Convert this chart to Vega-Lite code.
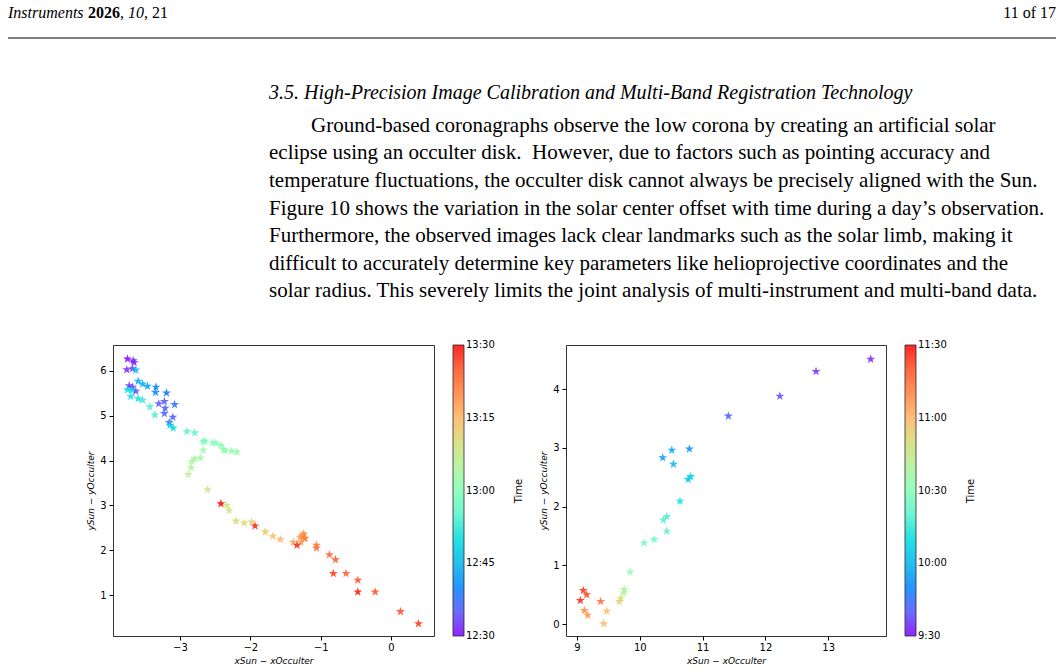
{
  "$schema": "https://vega.github.io/schema/vega-lite/v6.json",
  "background": "white",
  "padding": {"left": 7, "top": 0, "right": 0, "bottom": 0},
  "config": {
    "view": {"stroke": null},
    "axis": {"grid": false, "domain": false, "tickColor": "#000", "tickSize": 4, "labelFont": "DejaVu Sans", "labelFontSize": 10, "labelColor": "#000", "titleFont": "DejaVu Sans", "titleFontSize": 9, "titleFontStyle": "italic", "titleFontWeight": "normal", "titleColor": "#000", "labelPadding": 3, "titlePadding": 4},
    "legend": {"orient": "none", "legendY": 0, "direction": "vertical", "gradientLength": 291, "gradientThickness": 11, "gradientStrokeColor": "#000", "gradientStrokeWidth": 0.8, "labelFont": "DejaVu Sans", "labelFontSize": 10, "labelColor": "#000", "labelOffset": 7, "labelOverlap": false, "padding": 0}
  },
  "spacing": 43,
  "vconcat": [
    {
      "width": 1048,
      "height": 38,
      "data": {"values": [
        {"part": "journal", "text": "Instruments"},
        {"part": "year", "text": "2026"},
        {"part": "sep", "text": ","},
        {"part": "volume", "text": "10"},
        {"part": "article", "text": ", 21"},
        {"part": "page", "text": "11 of 17"}
      ]},
      "layer": [
        {"transform": [{"filter": "datum.part == 'journal'"}], "mark": {"type": "text", "x": 0, "dy": -6, "align": "left", "baseline": "middle", "font": "Liberation Serif", "fontSize": 16, "fontStyle": "italic", "color": "#000"}, "encoding": {"text": {"field": "text"}}},
        {"transform": [{"filter": "datum.part == 'year'"}], "mark": {"type": "text", "x": 0, "dx": 80, "dy": -6, "align": "left", "baseline": "middle", "font": "Liberation Serif", "fontSize": 16, "fontWeight": "bold", "color": "#000"}, "encoding": {"text": {"field": "text"}}},
        {"transform": [{"filter": "datum.part == 'sep'"}], "mark": {"type": "text", "x": 0, "dx": 112, "dy": -6, "align": "left", "baseline": "middle", "font": "Liberation Serif", "fontSize": 16, "color": "#000"}, "encoding": {"text": {"field": "text"}}},
        {"transform": [{"filter": "datum.part == 'volume'"}], "mark": {"type": "text", "x": 0, "dx": 120, "dy": -6, "align": "left", "baseline": "middle", "font": "Liberation Serif", "fontSize": 16, "fontStyle": "italic", "color": "#000"}, "encoding": {"text": {"field": "text"}}},
        {"transform": [{"filter": "datum.part == 'article'"}], "mark": {"type": "text", "x": 0, "dx": 136, "dy": -6, "align": "left", "baseline": "middle", "font": "Liberation Serif", "fontSize": 16, "color": "#000"}, "encoding": {"text": {"field": "text"}}},
        {"transform": [{"filter": "datum.part == 'page'"}], "mark": {"type": "text", "x": "width", "dy": -6, "align": "right", "baseline": "middle", "font": "Liberation Serif", "fontSize": 16, "color": "#000"}, "encoding": {"text": {"field": "text"}}},
        {"transform": [{"filter": "datum.part == 'page'"}], "mark": {"type": "rule", "x": 0, "x2": "width", "strokeWidth": 1.2, "color": "#000"}, "encoding": {"y": {"datum": 0, "type": "quantitative", "scale": {"domain": [0, 1], "zero": false, "nice": false}, "axis": null}}}
      ]
    },
    {
      "title": {
        "text": "3.5. High-Precision Image Calibration and Multi-Band Registration Technology",
        "subtitle": [
          "\u200b\u00a0\u00a0\u00a0\u00a0\u00a0\u00a0\u00a0\u00a0Ground-based coronagraphs observe the low corona by creating an artificial solar",
          "eclipse using an occulter disk.\u00a0 However, due to factors such as pointing accuracy and",
          "temperature fluctuations, the occulter disk cannot always be precisely aligned with the Sun.",
          "Figure 10 shows the variation in the solar center offset with time during a day’s observation.",
          "Furthermore, the observed images lack clear landmarks such as the solar limb, making it",
          "difficult to accurately determine key parameters like helioprojective coordinates and the",
          "solar radius. This severely limits the joint analysis of multi-instrument and multi-band data."
        ],
        "anchor": "start",
        "dx": 261,
        "font": "Liberation Serif",
        "fontSize": 20,
        "fontStyle": "italic",
        "fontWeight": "normal",
        "color": "#000",
        "subtitleFont": "Liberation Serif",
        "subtitleFontSize": 21,
        "subtitleColor": "#000",
        "subtitleLineHeight": 27.6,
        "subtitlePadding": 12,
        "offset": 43
      },
      "spacing": 15,
      "resolve": {"scale": {"color": "independent", "x": "independent", "y": "independent"}, "legend": {"color": "independent"}},
      "hconcat": [
        {
          "width": 63,
          "height": 291,
          "data": {"values": []},
          "mark": "point",
          "encoding": {}
        },
        {
          "width": 321,
          "height": 291,
          "view": {"stroke": "#333", "strokeWidth": 1},
          "data": {"values": [
            {"x": -3.744, "y": 6.27, "t": 750},
            {"x": -3.664, "y": 6.23, "t": 750.5},
            {"x": -3.65, "y": 6.19, "t": 751},
            {"x": -3.754, "y": 6.03, "t": 751},
            {"x": -3.673, "y": 6.05, "t": 751.5},
            {"x": -3.72, "y": 5.67, "t": 752},
            {"x": -3.673, "y": 5.64, "t": 752.5},
            {"x": -3.626, "y": 5.55, "t": 754},
            {"x": -3.30, "y": 5.27, "t": 755},
            {"x": -3.22, "y": 5.32, "t": 755},
            {"x": -3.21, "y": 5.17, "t": 756},
            {"x": -3.22, "y": 5.05, "t": 756},
            {"x": -3.10, "y": 4.97, "t": 756.5},
            {"x": -3.15, "y": 4.85, "t": 757},
            {"x": -3.075, "y": 5.25, "t": 758},
            {"x": -3.19, "y": 5.51, "t": 759},
            {"x": -3.34, "y": 5.64, "t": 760},
            {"x": -3.346, "y": 5.52, "t": 760},
            {"x": -3.46, "y": 5.66, "t": 762},
            {"x": -3.593, "y": 5.77, "t": 764},
            {"x": -3.53, "y": 5.71, "t": 764},
            {"x": -3.626, "y": 6.02, "t": 766},
            {"x": -3.14, "y": 4.79, "t": 769},
            {"x": -3.095, "y": 4.73, "t": 770},
            {"x": -3.744, "y": 5.58, "t": 770},
            {"x": -3.687, "y": 5.57, "t": 770.5},
            {"x": -3.697, "y": 5.43, "t": 771},
            {"x": -3.593, "y": 5.38, "t": 771},
            {"x": -3.53, "y": 5.35, "t": 772},
            {"x": -3.356, "y": 5.02, "t": 773},
            {"x": -3.427, "y": 5.20, "t": 774},
            {"x": -2.90, "y": 4.65, "t": 775},
            {"x": -2.79, "y": 4.62, "t": 776},
            {"x": -2.67, "y": 4.42, "t": 779},
            {"x": -2.645, "y": 4.44, "t": 779},
            {"x": -2.535, "y": 4.40, "t": 780},
            {"x": -2.49, "y": 4.39, "t": 780},
            {"x": -2.417, "y": 4.34, "t": 780.5},
            {"x": -2.38, "y": 4.25, "t": 781},
            {"x": -2.36, "y": 4.22, "t": 781},
            {"x": -2.265, "y": 4.21, "t": 781.5},
            {"x": -2.19, "y": 4.19, "t": 782},
            {"x": -2.67, "y": 4.23, "t": 782.5},
            {"x": -2.71, "y": 4.06, "t": 783},
            {"x": -2.79, "y": 4.04, "t": 783.5},
            {"x": -2.83, "y": 3.98, "t": 784},
            {"x": -2.84, "y": 3.84, "t": 786},
            {"x": -2.88, "y": 3.69, "t": 787},
            {"x": -2.606, "y": 3.35, "t": 788},
            {"x": -2.336, "y": 3.00, "t": 789},
            {"x": -2.30, "y": 2.89, "t": 789},
            {"x": -2.20, "y": 2.65, "t": 790},
            {"x": -2.085, "y": 2.61, "t": 790.5},
            {"x": -1.98, "y": 2.63, "t": 791},
            {"x": -1.787, "y": 2.41, "t": 793},
            {"x": -1.68, "y": 2.31, "t": 794},
            {"x": -1.573, "y": 2.24, "t": 795},
            {"x": -1.388, "y": 2.18, "t": 797},
            {"x": -1.293, "y": 2.29, "t": 798},
            {"x": -1.28, "y": 2.18, "t": 798.5},
            {"x": -1.255, "y": 2.33, "t": 799},
            {"x": -1.24, "y": 2.37, "t": 799},
            {"x": -1.23, "y": 2.26, "t": 799.5},
            {"x": -1.22, "y": 2.27, "t": 800},
            {"x": -1.06, "y": 2.11, "t": 801},
            {"x": -1.06, "y": 2.05, "t": 802},
            {"x": -0.876, "y": 1.90, "t": 803},
            {"x": -0.79, "y": 1.79, "t": 804},
            {"x": -0.64, "y": 1.48, "t": 804},
            {"x": -0.472, "y": 1.33, "t": 805},
            {"x": -0.226, "y": 1.07, "t": 805.5},
            {"x": 0.134, "y": 0.63, "t": 806},
            {"x": 0.39, "y": 0.36, "t": 808},
            {"x": -0.82, "y": 1.48, "t": 808},
            {"x": -1.933, "y": 2.54, "t": 809},
            {"x": -1.336, "y": 2.11, "t": 809},
            {"x": -0.472, "y": 1.07, "t": 809.5},
            {"x": -2.417, "y": 3.04, "t": 810}
          ]},
          "layer": [
            {
              "mark": {"type": "point", "shape": "M0,-1L0.225,-0.309L0.951,-0.309L0.363,0.118L0.588,0.809L0,0.382L-0.588,0.809L-0.363,0.118L-0.951,-0.309L-0.225,-0.309Z", "filled": true, "size": 90, "opacity": 0.85},
              "encoding": {
                "x": {"field": "x", "type": "quantitative", "scale": {"domain": [-3.95, 0.61], "nice": false, "zero": false}, "axis": {"title": "xSun − xOcculter", "values": [-3, -2, -1, 0], "labelPadding": 2}},
                "y": {"field": "y", "type": "quantitative", "scale": {"domain": [0.085, 6.58], "nice": false, "zero": false}, "axis": {"title": "ySun − yOcculter", "values": [1, 2, 3, 4, 5, 6]}},
                "color": {"field": "t", "type": "quantitative",
                  "scale": {"domain": [750, 757.5, 765, 772.5, 780, 787.5, 795, 802.5, 810], "range": ["#8000ff", "#4062fa", "#00b4eb", "#40ecd4", "#80ffb4", "#c0eb8e", "#ffb462", "#ff6232", "#ff0000"]},
                  "legend": {"title": null, "legendX": 340, "values": [750.05, 765, 780, 795, 809.95], "labelExpr": "floor(round(datum.value)/60) + ':' + (round(datum.value)%60 < 10 ? '0' : '') + (round(datum.value)%60)"}}
              }
            },
            {
              "transform": [{"filter": "false"}],
              "mark": {"type": "point", "opacity": 0},
              "encoding": {
                "y": {"datum": 0, "type": "quantitative", "scale": {"domain": [0, 1]}, "axis": {"orient": "right", "title": "Time", "labels": false, "ticks": false, "domain": false, "titleAngle": 270, "offset": 89, "titlePadding": 0, "titleFontStyle": "normal", "titleFontSize": 10}}
              }
            }
          ],
          "resolve": {"scale": {"y": "independent"}, "axis": {"y": "independent"}}
        },
        {
          "width": 320,
          "height": 291,
          "view": {"stroke": "#333", "strokeWidth": 1},
          "data": {"values": [
            {"x": 13.676, "y": 4.51, "t": 571},
            {"x": 12.806, "y": 4.30, "t": 573},
            {"x": 12.23, "y": 3.88, "t": 578},
            {"x": 11.41, "y": 3.54, "t": 582},
            {"x": 10.79, "y": 2.98, "t": 592},
            {"x": 10.365, "y": 2.83, "t": 595},
            {"x": 10.51, "y": 2.96, "t": 598},
            {"x": 10.535, "y": 2.72, "t": 600},
            {"x": 10.77, "y": 2.46, "t": 606},
            {"x": 10.81, "y": 2.51, "t": 607},
            {"x": 10.64, "y": 2.09, "t": 612},
            {"x": 10.43, "y": 1.83, "t": 616},
            {"x": 10.375, "y": 1.77, "t": 618},
            {"x": 10.43, "y": 1.58, "t": 620},
            {"x": 10.23, "y": 1.44, "t": 624},
            {"x": 10.07, "y": 1.38, "t": 626},
            {"x": 9.844, "y": 0.885, "t": 632},
            {"x": 9.753, "y": 0.59, "t": 638},
            {"x": 9.74, "y": 0.53, "t": 642},
            {"x": 9.70, "y": 0.44, "t": 648},
            {"x": 9.674, "y": 0.385, "t": 655},
            {"x": 9.473, "y": 0.22, "t": 658},
            {"x": 9.425, "y": 0.005, "t": 660},
            {"x": 9.17, "y": 0.15, "t": 667},
            {"x": 9.117, "y": 0.23, "t": 669},
            {"x": 9.377, "y": 0.385, "t": 674},
            {"x": 9.154, "y": 0.50, "t": 684},
            {"x": 9.10, "y": 0.57, "t": 686},
            {"x": 9.053, "y": 0.40, "t": 688}
          ]},
          "layer": [
            {
              "mark": {"type": "point", "shape": "M0,-1L0.225,-0.309L0.951,-0.309L0.363,0.118L0.588,0.809L0,0.382L-0.588,0.809L-0.363,0.118L-0.951,-0.309L-0.225,-0.309Z", "filled": true, "size": 90, "opacity": 0.85},
              "encoding": {
                "x": {"field": "x", "type": "quantitative", "scale": {"domain": [8.825, 13.92], "nice": false, "zero": false}, "axis": {"title": "xSun − xOcculter", "values": [9, 10, 11, 12, 13], "labelPadding": 2}},
                "y": {"field": "y", "type": "quantitative", "scale": {"domain": [-0.204, 4.75], "nice": false, "zero": false}, "axis": {"title": "ySun − yOcculter", "values": [0, 1, 2, 3, 4]}},
                "color": {"field": "t", "type": "quantitative",
                  "scale": {"domain": [570, 585, 600, 615, 630, 645, 660, 675, 690], "range": ["#8000ff", "#4062fa", "#00b4eb", "#40ecd4", "#80ffb4", "#c0eb8e", "#ffb462", "#ff6232", "#ff0000"]},
                  "legend": {"title": null, "legendX": 339, "values": [570.05, 600, 630, 660, 689.95], "labelExpr": "floor(round(datum.value)/60) + ':' + (round(datum.value)%60 < 10 ? '0' : '') + (round(datum.value)%60)"}}
              }
            },
            {
              "transform": [{"filter": "false"}],
              "mark": {"type": "point", "opacity": 0},
              "encoding": {
                "y": {"datum": 0, "type": "quantitative", "scale": {"domain": [0, 1]}, "axis": {"orient": "right", "title": "Time", "labels": false, "ticks": false, "domain": false, "titleAngle": 270, "offset": 89, "titlePadding": 0, "titleFontStyle": "normal", "titleFontSize": 10}}
              }
            }
          ],
          "resolve": {"scale": {"y": "independent"}, "axis": {"y": "independent"}}
        }
      ]
    }
  ]
}
